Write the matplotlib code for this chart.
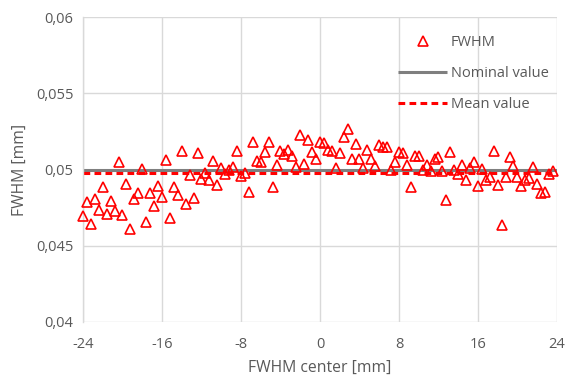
import matplotlib
matplotlib.use("Agg")
import matplotlib.pyplot as plt
from matplotlib.ticker import FixedLocator, FixedFormatter

plt.rcParams['font.family'] = ['Open Sans', 'DejaVu Sans']

fwhm_center = [
    -24.0, -23.6, -23.2, -22.8, -22.4, -22.0, -21.6, -21.2, -20.8, -20.4,
    -20.0, -19.6, -19.2, -18.8, -18.4, -18.0, -17.6, -17.2, -16.8, -16.4,
    -16.0, -15.6, -15.2, -14.8, -14.4, -14.0, -13.6, -13.2, -12.8, -12.4,
    -12.0, -11.6, -11.2, -10.8, -10.4, -10.0, -9.6, -9.2, -8.8, -8.4,
    -8.0, -7.6, -7.2, -6.8, -6.4, -6.0, -5.6, -5.2, -4.8, -4.4,
    -4.0, -3.6, -3.2, -2.8, -2.4, -2.0, -1.6, -1.2, -0.8, -0.4,
    0.0, 0.4, 0.8, 1.2, 1.6, 2.0, 2.4, 2.8, 3.2, 3.6,
    4.0, 4.4, 4.8, 5.2, 5.6, 6.0, 6.4, 6.8, 7.2, 7.6,
    8.0, 8.4, 8.8, 9.2, 9.6, 10.0, 10.4, 10.8, 11.2, 11.6,
    12.0, 12.4, 12.8, 13.2, 13.6, 14.0, 14.4, 14.8, 15.2, 15.6,
    16.0, 16.4, 16.8, 17.2, 17.6, 18.0, 18.4, 18.8, 19.2, 19.6,
    20.0, 20.4, 20.8, 21.2, 21.6, 22.0, 22.4, 22.8, 23.2, 23.6,
]

fwhm_values = [
    0.04697, 0.04785, 0.04642, 0.04804, 0.04732, 0.04887, 0.04710, 0.04795, 0.04727, 0.05049,
    0.04699, 0.04903, 0.04611, 0.04804, 0.04844, 0.05003, 0.04653, 0.04848, 0.04760, 0.04894,
    0.04817, 0.05062, 0.04683, 0.04885, 0.04833, 0.05124, 0.04775, 0.04966, 0.04815, 0.05110,
    0.04940, 0.04979, 0.04931, 0.05054, 0.04900, 0.05010, 0.04972, 0.04997, 0.05018, 0.05122,
    0.04959, 0.04975, 0.04852, 0.05183, 0.05056, 0.05047, 0.05113, 0.05181, 0.04885, 0.05032,
    0.05122, 0.05100, 0.05128, 0.05091, 0.05015, 0.05229, 0.05034, 0.05194, 0.05113, 0.05069,
    0.05179, 0.05176, 0.05128, 0.05124, 0.05012, 0.05110, 0.05216, 0.05264, 0.05069, 0.05166,
    0.05071, 0.05012, 0.05128, 0.05071, 0.05025, 0.05161, 0.05150, 0.05150, 0.04997, 0.05051,
    0.05117, 0.05106, 0.05028, 0.04885, 0.05089, 0.05089, 0.04997, 0.05030, 0.04990, 0.05067,
    0.05080, 0.04990, 0.04800, 0.05113, 0.04997, 0.04970, 0.05030, 0.04931, 0.05008, 0.05049,
    0.04892, 0.05001, 0.04931, 0.04951, 0.05124, 0.04900, 0.04633, 0.04953, 0.05084, 0.05023,
    0.04953, 0.04894, 0.04931, 0.04946, 0.05018, 0.04905, 0.04848, 0.04854, 0.04970, 0.04990,
]

nominal_value = 0.05
mean_value = 0.0498

x_ticks = [-24, -16, -8, 0, 8, 16, 24]
x_tick_labels = ['-24', '-16', '-8', '0', '8', '16', '24']
y_ticks = [0.04, 0.045, 0.05, 0.055, 0.06]
y_tick_labels = ['0,04', '0,045', '0,05', '0,055', '0,06']

fig = plt.figure(figsize=(5.66, 3.76), dpi=100)
ax = fig.add_axes([0.1466, 0.1444, 0.984 - 0.1466, 0.954 - 0.1444])

grid_c = '#d9d9d9'
text_c = '#595959'

ax.set_xlim(-24, 24)
ax.set_ylim(0.04, 0.06)
ax.xaxis.set_major_locator(FixedLocator(x_ticks))
ax.xaxis.set_major_formatter(FixedFormatter(x_tick_labels))
ax.yaxis.set_major_locator(FixedLocator(y_ticks))
ax.yaxis.set_major_formatter(FixedFormatter(y_tick_labels))
ax.grid(True, color=grid_c, linewidth=1.0, zorder=0)
ax.set_axisbelow(True)
for s in ['top', 'right', 'bottom']:
    ax.spines[s].set_visible(False)
ax.spines['left'].set_color(grid_c)
ax.spines['left'].set_linewidth(1.0)
ax.tick_params(axis='y', length=0, colors=text_c, labelsize=10.5, pad=7)
ax.tick_params(axis='x', length=0, colors=text_c, labelsize=10.5, pad=11)

ax.plot(fwhm_center, fwhm_values, linestyle='none', marker='^', markersize=7.8,
        markerfacecolor='none', markeredgecolor='#ff0000', markeredgewidth=1.2,
        label='FWHM', zorder=3, clip_on=False)
ax.plot([-24, 24], [nominal_value, nominal_value], color='#7f7f7f', linewidth=2.2,
        label='Nominal value', zorder=2, solid_capstyle='butt')
ax.plot([-24, 24], [mean_value, mean_value], color='#ff0000', linewidth=2.2,
        linestyle=(0, (2.2, 1.4)), label='Mean value', zorder=2.5)

ax.set_xlabel('FWHM center [mm]', color=text_c, fontsize=11.3, labelpad=6)
ax.set_ylabel('FWHM [mm]', color=text_c, fontsize=11.3, labelpad=6)

leg = ax.legend(loc='upper left', bbox_to_anchor=(0.638, 0.985), frameon=False,
                fontsize=10.5, handlelength=3.3, handletextpad=0.3, labelspacing=1.1,
                labelcolor=text_c)

fig.savefig('out.png', dpi=100)
